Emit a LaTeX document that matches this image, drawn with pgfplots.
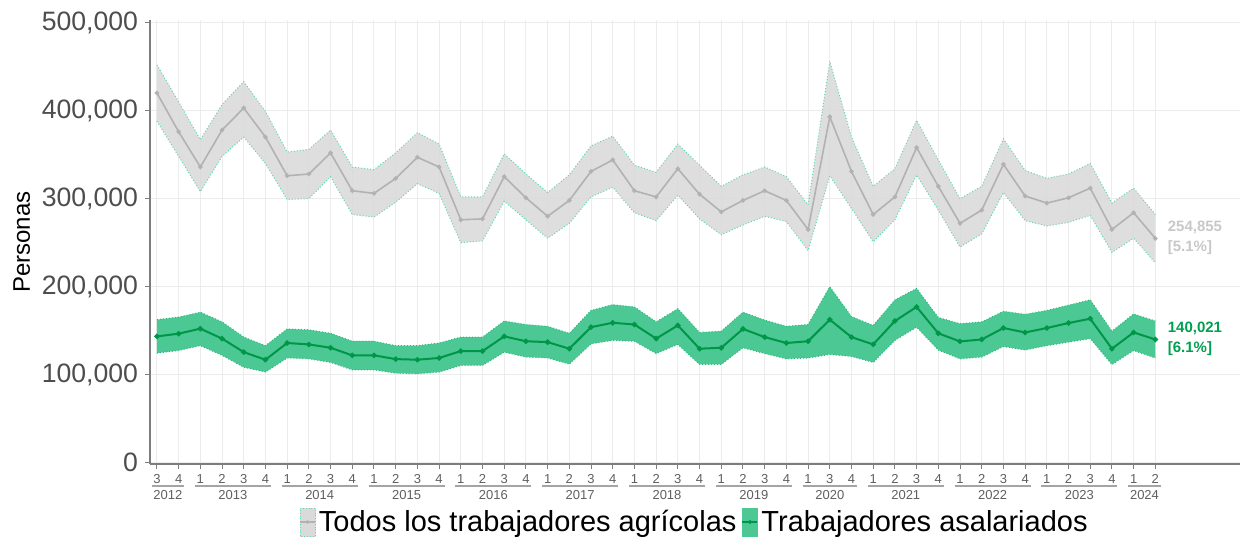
\documentclass[border=0pt]{standalone}
\usepackage{pgfplots}
\pgfplotsset{compat=1.18}
\usepackage{pgfplotstable}
\usepgfplotslibrary{fillbetween}
\usepackage{fontspec}
\setmainfont{Liberation Sans}

\definecolor{gridc}{RGB}{236,236,236}
\definecolor{axisc}{RGB}{125,125,125}
\definecolor{tickc}{RGB}{77,77,77}
\definecolor{xtickc}{RGB}{95,95,95}
\definecolor{grayfill}{RGB}{218,218,218}
\definecolor{grayedge}{RGB}{95,215,175}
\definecolor{grayline}{RGB}{178,178,178}
\definecolor{graylab}{RGB}{200,200,200}
\definecolor{greenfill}{RGB}{76,200,148}
\definecolor{greenedge}{RGB}{45,185,125}
\definecolor{greenline}{RGB}{0,150,72}
\definecolor{greenlab}{RGB}{0,160,80}

% todos los trabajadores agricolas: estimate, upper, lower
\pgfplotstableread{
i mid hi lo
0 420000 452000 388000
1 376000 410000 348000
2 336000 367000 308000
3 378000 407000 348000
4 403000 433000 370000
5 370000 399000 340000
6 326000 353000 299000
7 328000 356000 300000
8 352000 378000 325000
9 309000 336000 282000
10 306000 333000 279000
11 323000 352000 296000
12 347000 375000 317000
13 336000 362000 306000
14 276000 302000 250000
15 277000 302000 252000
16 325000 351000 297000
17 301000 328000 276000
18 280000 307000 255000
19 298000 327000 272000
20 331000 360000 302000
21 344000 371000 313000
22 309000 338000 284000
23 302000 330000 275000
24 334000 362000 304000
25 305000 338000 277000
26 285000 314000 259000
27 298000 327000 270000
28 309000 336000 280000
29 298000 325000 274000
30 265000 293000 241000
31 393000 456000 326000
32 331000 370000 289000
33 282000 314000 251000
34 302000 334000 276000
35 358000 389000 327000
36 314000 344000 287000
37 272000 300000 245000
38 287000 314000 260000
39 339000 368000 307000
40 303000 332000 275000
41 295000 323000 269000
42 301000 328000 273000
43 312000 340000 281000
44 265000 295000 239000
45 284000 312000 255000
46 254855 282000 227000
}\todos

% trabajadores asalariados
\pgfplotstableread{
i mid hi lo
0 143500 162500 124500
1 146600 165500 127500
2 152300 171000 133000
3 141000 160000 122000
4 125600 142700 108500
5 117000 133000 103000
6 136000 152000 119000
7 134400 151000 118000
8 130600 147000 114000
9 121900 138000 105500
10 122000 138000 105500
11 117700 133000 101700
12 117000 133000 101000
13 119000 136000 103000
14 126800 142700 110500
15 126800 142700 110500
16 143500 161000 125600
17 138000 157000 120000
18 137000 155000 119000
19 129500 147000 112000
20 154000 173000 135000
21 159000 179600 139000
22 157000 177000 138000
23 141000 160000 124000
24 156000 175000 134400
25 129500 148000 111600
26 130600 149500 111600
27 152000 171000 130600
28 142700 162000 124000
29 136000 155000 118000
30 138000 157000 119000
31 162500 200000 123000
32 142700 166000 120700
33 134400 156000 114000
34 161000 185000 139000
35 177000 198000 154000
36 147000 165000 128000
37 137800 158000 118000
38 140000 160000 120000
39 153000 172000 132000
40 148000 168600 128000
41 153000 173000 133000
42 158700 179000 137000
43 163600 185000 141000
44 129500 149500 111600
45 148000 169000 127500
46 140021 161000 119000
}\asalariados

\newcommand{\yr}[3]{%
  \draw[axisc!70, line width=0.6pt] ([yshift=-11pt]axis cs:#1-0.25,-1500) -- ([yshift=-11pt]axis cs:#2+0.25,-1500);
  \node[font=\fontsize{6.5}{7}\selectfont, text=xtickc] at ([yshift=-15.5pt]axis cs:#1/2+#2/2,-1500) {#3};
}

\begin{document}
\begin{tikzpicture}
\begin{axis}[
    scale only axis,
    width=545pt, height=222pt,
    xmin=-0.32, xmax=49.9,
    ymin=-1500, ymax=503000,
    axis x line*=bottom, axis y line*=left,
    axis line style={axisc, line width=0.7pt, -},
    xtick={0,...,46},
    xticklabels={3,4,1,2,3,4,1,2,3,4,1,2,3,4,1,2,3,4,1,2,3,4,1,2,3,4,1,2,3,4,1,3,4,1,2,3,4,1,2,3,4,1,2,3,4,1,2},
    ytick={0,100000,200000,300000,400000,500000},
    yticklabels={0,{100,000},{200,000},{300,000},{400,000},{500,000}},
    scaled y ticks=false,
    yticklabel style={font=\fontsize{13.3}{13}\selectfont, text=tickc},
    xticklabel style={font=\fontsize{6.5}{7}\selectfont, text=xtickc, yshift=1pt},
    tick align=outside, major tick length=2.5pt,
    tick style={axisc, line width=0.5pt},
    grid=major, major grid style={gridc, line width=0.5pt},
    ylabel={Personas},
    ylabel style={font=\fontsize{12}{12}\selectfont, text=black, yshift=-1pt},
    clip=false,
    legend columns=2,
    legend style={at={(0.5,0)}, anchor=center, yshift=-29pt, draw=none, fill=none,
        font=\fontsize{14.5}{16}\selectfont, inner sep=0pt,
        nodes={inner sep=1.5pt},
        /tikz/every even column/.append style={column sep=1pt}},
    legend cell align=left,
]
\addplot[name path=gu, grayedge, densely dotted, line width=0.5pt, forget plot] table[x=i, y=hi] {\todos};
\addplot[name path=gl, grayedge, densely dotted, line width=0.5pt, forget plot] table[x=i, y=lo] {\todos};
\addplot[grayfill, fill opacity=0.9, draw=none, forget plot] fill between[of=gu and gl];
\addplot[grayline, line width=0.8pt, mark=*, mark size=0.7pt, forget plot] table[x=i, y=mid] {\todos};

\addplot[name path=vu, greenedge, densely dotted, line width=0.5pt, forget plot] table[x=i, y=hi] {\asalariados};
\addplot[name path=vl, greenedge, densely dotted, line width=0.5pt, forget plot] table[x=i, y=lo] {\asalariados};
\addplot[greenfill, draw=none, forget plot] fill between[of=vu and vl];
\addplot[greenline, line width=1pt, mark=*, mark size=0.8pt, forget plot] table[x=i, y=mid] {\asalariados};

\addlegendimage{legend image code/.code={
    \fill[grayfill] (0pt,-7pt) rectangle (7.5pt,7pt);
    \draw[grayedge, densely dotted, line width=0.4pt] (0pt,-7pt) rectangle (7.5pt,7pt);
    \draw[grayline, line width=0.8pt] (0pt,0pt) -- (7.5pt,0pt);
    \fill[grayline] (3.75pt,0pt) circle (0.7pt);}}
\addlegendentry{Todos los trabajadores agrícolas}
\addlegendimage{legend image code/.code={
    \fill[greenfill] (0pt,-7pt) rectangle (7.5pt,7pt);
    \draw[greenline, line width=1pt] (0pt,0pt) -- (7.5pt,0pt);
    \fill[greenline] (3.75pt,0pt) circle (0.8pt);}}
\addlegendentry{Trabajadores asalariados}

\node[anchor=west, align=left, font=\bfseries\fontsize{7.5}{10}\selectfont, text=graylab]
    at (axis cs:46.25,255000) {254,855\\{[5.1\%]}};
\node[anchor=west, align=left, font=\bfseries\fontsize{7.5}{10}\selectfont, text=greenlab]
    at (axis cs:46.25,140500) {140,021\\{[6.1\%]}};

\yr{0}{1}{2012}
\yr{2}{5}{2013}
\yr{6}{9}{2014}
\yr{10}{13}{2015}
\yr{14}{17}{2016}
\yr{18}{21}{2017}
\yr{22}{25}{2018}
\yr{26}{29}{2019}
\yr{30}{32}{2020}
\yr{33}{36}{2021}
\yr{37}{40}{2022}
\yr{41}{44}{2023}
\yr{45}{46}{2024}

\coordinate (bl) at ([xshift=-75pt,yshift=-37.5pt]rel axis cs:0,0);
\coordinate (tr) at ([xshift=4pt,yshift=10pt]rel axis cs:1,1);
\end{axis}
\path (bl) rectangle (tr);
\end{tikzpicture}
\end{document}
